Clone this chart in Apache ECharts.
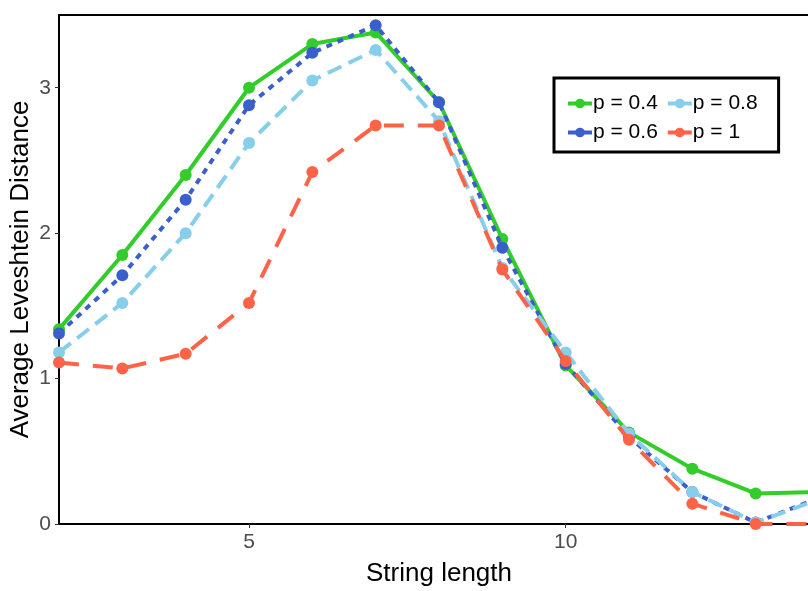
<!DOCTYPE html>
<html>
<head>
<meta charset="utf-8">
<script src="https://cdn.jsdelivr.net/npm/echarts@6/dist/echarts.min.js"></script>
<style>
  html, body { margin: 0; padding: 0; background: #fff; }
  #chart { width: 808px; height: 591px; }
</style>
</head>
<body>
<div id="chart"></div>
<script>
// String lengths on the x axis
const stringLength = [2, 3, 4, 5, 6, 7, 8, 9, 10, 11, 12, 13, 14];

// Average Levenshtein distance per probability p
const p04 = [1.34, 1.85, 2.40, 3.00, 3.30, 3.38, 2.90, 1.96, 1.09, 0.63, 0.38, 0.21, 0.22];
const p06 = [1.31, 1.71, 2.23, 2.88, 3.24, 3.43, 2.90, 1.90, 1.10, 0.60, 0.22, 0.01, 0.18];
const p08 = [1.18, 1.52, 2.00, 2.62, 3.05, 3.26, 2.77, 1.76, 1.18, 0.62, 0.22, 0.01, 0.17];
const p10 = [1.11, 1.07, 1.17, 1.52, 2.42, 2.74, 2.74, 1.75, 1.12, 0.58, 0.14, 0.00, 0.00];

const seriesNames = ['p = 0.4', 'p = 0.6', 'p = 0.8', 'p = 1'];
const xTicks = [5, 10];
const yTicks = [0, 1, 2, 3];

const pairs = ys => stringLength.map((x, i) => [x, ys[i]]);

const styles = [
  { color: '#32cd2a', dash: 'solid' },
  { color: '#3a5fcd', dash: [6, 6] },
  { color: '#87ceeb', dash: [15, 8] },
  { color: '#ff6347', dash: [20, 14] }
];
const values = [p04, p06, p08, p10];

const chart = echarts.init(document.getElementById('chart'), null, { renderer: 'canvas' });

chart.setOption({
  animation: false,
  backgroundColor: '#ffffff',
  textStyle: { fontFamily: 'Liberation Sans, Arial, sans-serif' },
  grid: {
    left: 59, top: 15, width: 760, height: 509,
    outerBoundsMode: 'none', containLabel: false,
    show: true, borderColor: '#000', borderWidth: 2, backgroundColor: 'transparent'
  },
  xAxis: {
    type: 'value', min: 2, max: 14,
    name: 'String length', nameLocation: 'middle', nameGap: 37,
    nameMoveOverlap: false,
    nameTextStyle: { fontSize: 26, color: '#000' },
    axisLine: { show: true, lineStyle: { color: '#000', width: 2 } },
    axisTick: { show: true, customValues: xTicks, length: 4, lineStyle: { color: '#333' } },
    axisLabel: { customValues: xTicks, fontSize: 21, color: '#4d4d4d', margin: 8 },
    splitLine: { show: false }
  },
  yAxis: {
    type: 'value', min: 0, max: 3.5,
    name: 'Average Leveshtein Distance', nameLocation: 'middle', nameGap: 25,
    nameMoveOverlap: false,
    nameTextStyle: { fontSize: 26, color: '#000' },
    axisLine: { show: true, lineStyle: { color: '#000', width: 2 } },
    axisTick: { show: true, customValues: yTicks, length: 4, lineStyle: { color: '#333' } },
    axisLabel: { customValues: yTicks, fontSize: 21, color: '#4d4d4d', margin: 8 },
    splitLine: { show: false }
  },
  legend: {
    orient: 'vertical',
    left: 554, top: 78, height: 58,
    padding: [15, 21, 9, 12],
    borderColor: '#000', borderWidth: 3, borderRadius: 0,
    backgroundColor: '#fff',
    itemWidth: 24, itemHeight: 12, itemGap: 8,
    textStyle: { fontSize: 21, color: '#000', padding: [0, 2, 0, -4] },
    lineStyle: { type: 'solid', width: 4 },
    data: seriesNames
  },
  series: values.map((v, i) => ({
    name: seriesNames[i],
    type: 'line',
    data: pairs(v),
    symbol: 'circle',
    symbolSize: 12,
    clip: true,
    itemStyle: { color: styles[i].color },
    lineStyle: { color: styles[i].color, width: 4, type: styles[i].dash },
    z: 2 + i
  }))
});
</script>
</body>
</html>
